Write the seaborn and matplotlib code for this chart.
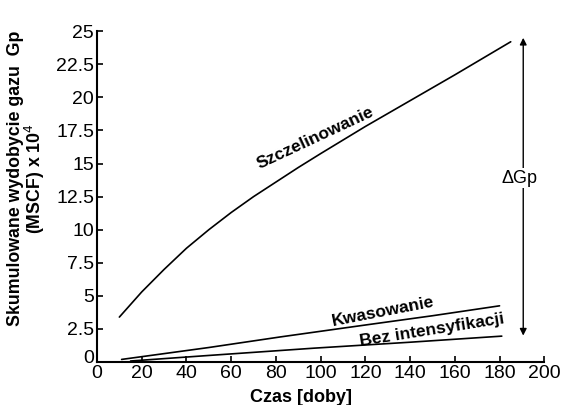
import numpy as np
import pandas as pd
import matplotlib
matplotlib.use('Agg')
import matplotlib.pyplot as plt
import matplotlib.transforms as mtransforms
import seaborn as sns

czas_szcz = [10, 20, 30, 40, 50, 60, 70, 80, 90, 100, 120, 140, 160, 185]
gp_szcz = [3.4, 5.3, 7.0, 8.6, 10.0, 11.3, 12.5, 13.6, 14.7, 15.75, 17.8, 19.75, 21.7, 24.2]

czas_kwas = [11, 50, 82, 120, 150, 180]
gp_kwas = [0.2, 1.1, 1.9, 2.8, 3.5, 4.25]

czas_bez = [15, 50, 97, 140, 181]
gp_bez = [0.08, 0.5, 1.05, 1.5, 1.96]

yticks = [0, 2.5, 5, 7.5, 10, 12.5, 15, 17.5, 20, 22.5, 25]
ytick_labels = ['0', '2.5', '5', '7.5', '10', '12.5', '15', '17.5', '20', '22.5', '25']
xticks = [0, 20, 40, 60, 80, 100, 120, 140, 160, 180, 200]

# strzalka Delta Gp
strzalka_x = 190.6
strzalka_y = (2.0, 24.5)

sns.set_style('ticks')
plt.rcParams['font.family'] = ['Liberation Sans', 'DejaVu Sans']
plt.rcParams['text.color'] = 'black'
plt.rcParams['axes.labelcolor'] = 'black'

fig = plt.figure(figsize=(5.64, 4.05), dpi=100)
ax = fig.add_axes([0.172, 0.106, 0.793, 0.817])

df_szcz = pd.DataFrame({'czas': czas_szcz, 'gp': gp_szcz})
df_kwas = pd.DataFrame({'czas': czas_kwas, 'gp': gp_kwas})
df_bez = pd.DataFrame({'czas': czas_bez, 'gp': gp_bez})

for d in (df_szcz, df_kwas, df_bez):
    sns.lineplot(data=d, x='czas', y='gp', color='black', linewidth=1.2, ax=ax)

ax.set_xlim(0, 200)
ax.set_ylim(0, 25)
ax.set_xticks(xticks)
ax.set_yticks(yticks)
ax.set_yticklabels(ytick_labels)
ax.tick_params(direction='in', length=4, width=1.2, labelsize=14, colors='black', pad=2)
for s in ('top', 'right'):
    ax.spines[s].set_visible(False)
for s in ('left', 'bottom'):
    ax.spines[s].set_linewidth(1.5)
    ax.spines[s].set_color('black')

# "0" na osi Y lekko do gory, zeby nie nachodzilo na "0" osi X
lbl0 = ax.get_yticklabels()[0]
lbl0.set_transform(lbl0.get_transform() + mtransforms.ScaledTranslation(0, 4 / 72, fig.dpi_scale_trans))

ax.set_xlabel('Czas [doby]', fontsize=13, fontweight='bold')
ax.xaxis.set_label_coords(0.455, -0.08)
ax.set_ylabel('Skumulowane wydobycie gazu  Gp\n(MSCF) x 10$^4$', fontsize=12.8, fontweight='bold',
              linespacing=0.95)
ax.yaxis.set_label_coords(-0.112, 0.555)

# opisy krzywych
ax.text(97.5, 16.9, 'Szczelinowanie', rotation=25, fontsize=12.5, fontweight='bold',
        ha='center', va='center')
ax.text(128, 3.8, 'Kwasowanie', rotation=11, fontsize=12.5, fontweight='bold',
        ha='center', va='center')
ax.text(150, 2.4, 'Bez intensyfikacji', rotation=9, fontsize=12.5, fontweight='bold',
        ha='center', va='center')

ax.annotate('', xy=(strzalka_x, strzalka_y[1]), xytext=(strzalka_x, strzalka_y[0]),
            arrowprops=dict(arrowstyle='<|-|>', color='black', lw=1.0, mutation_scale=10,
                            shrinkA=0, shrinkB=0))
ax.text(strzalka_x - 1.5, 13.9, '\u0394Gp', fontsize=13, ha='center', va='center',
        bbox=dict(facecolor='white', edgecolor='none', pad=1))

fig.savefig('out.png', dpi=100)
